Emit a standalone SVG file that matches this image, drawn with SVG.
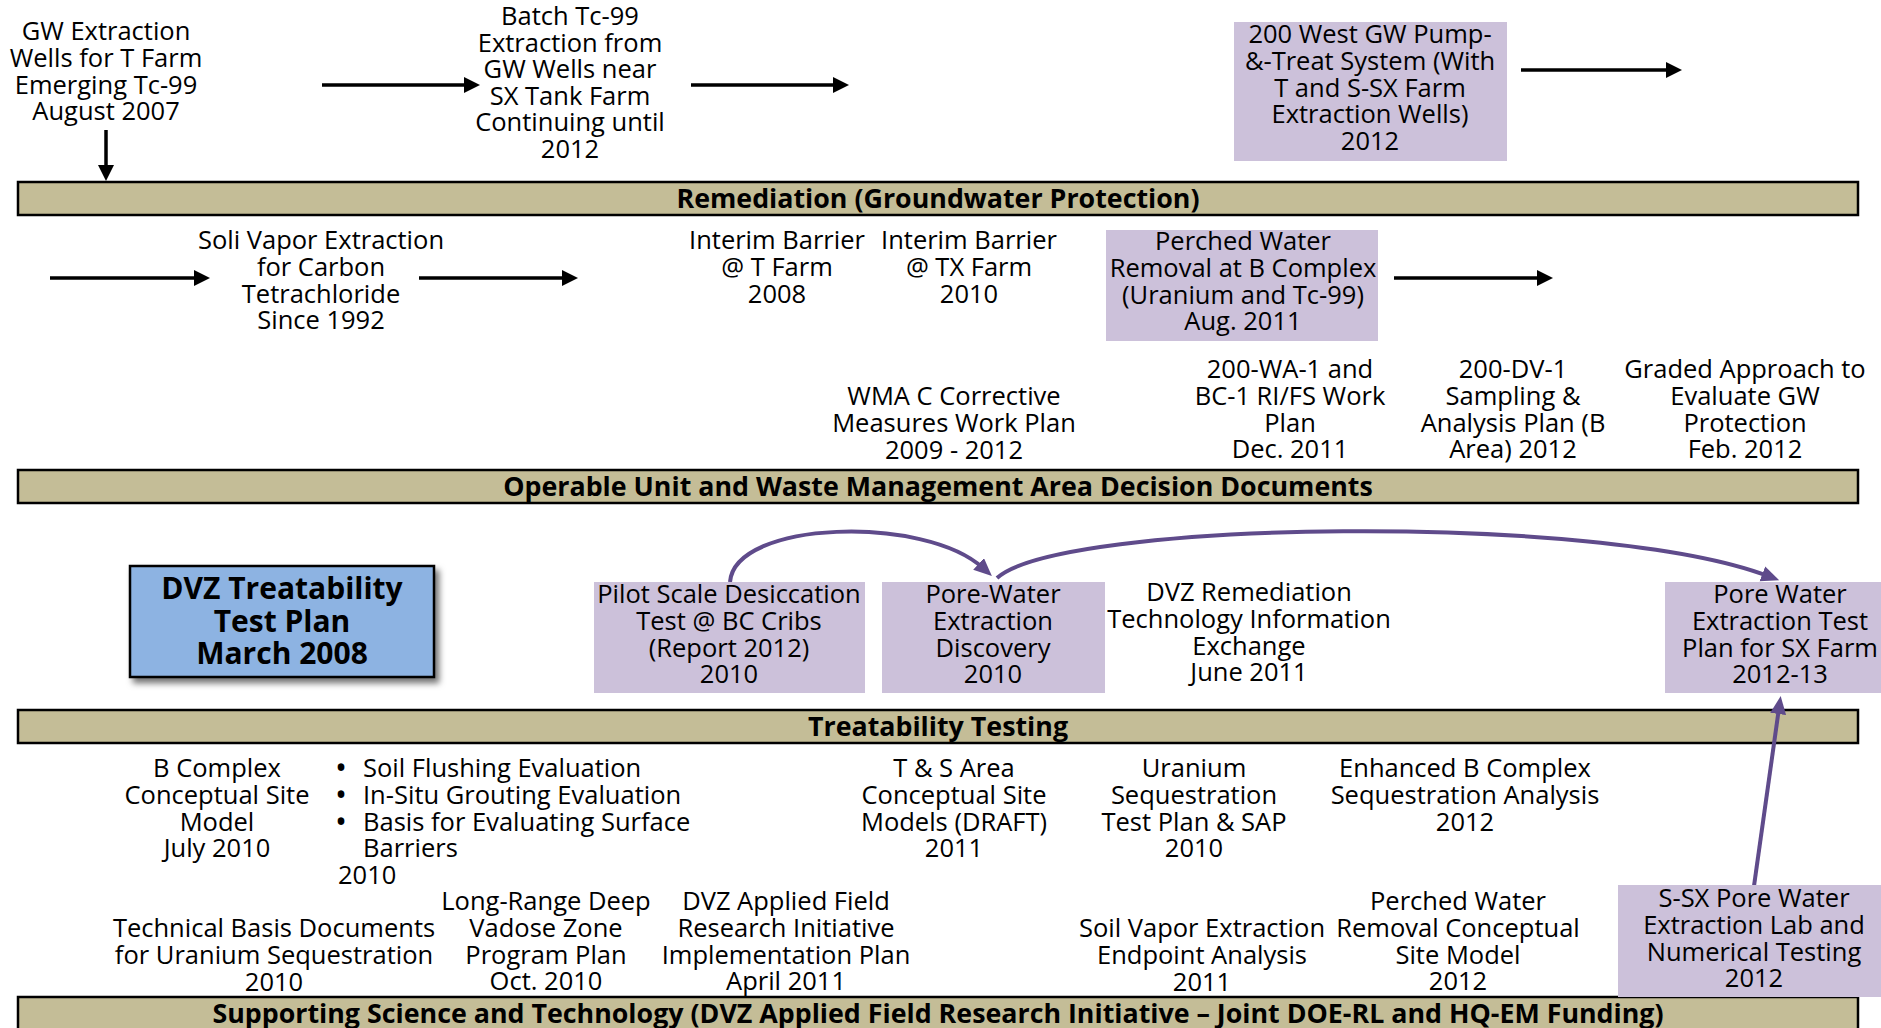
<svg xmlns="http://www.w3.org/2000/svg" width="1881" height="1028" viewBox="0 0 1881 1028">
<style>
.t{font-family:"Open Sans","Liberation Sans",sans-serif;font-size:25.5px;fill:#000;text-anchor:middle}
.l{text-anchor:start}
.band{fill:#C4BD97;stroke:#000;stroke-width:2.5}
.bt{font-family:"Open Sans","Liberation Sans",sans-serif;font-size:26.8px;font-weight:bold;fill:#000;text-anchor:middle}
.pbox{fill:#CCC1DA}
.arr{stroke:#000;stroke-width:3.5;fill:none;marker-end:url(#ah)}
.pc{stroke:#5F4B8B;stroke-width:4;fill:none;marker-end:url(#ph)}
</style>
<defs>
<marker id="ah" markerUnits="userSpaceOnUse" markerWidth="18" markerHeight="18" refX="4" refY="8" orient="auto"><path d="M0,0 L16,8 L0,16 z" fill="#000"/></marker>
<marker id="ph" markerUnits="userSpaceOnUse" markerWidth="20" markerHeight="18" refX="6" refY="8" orient="auto"><path d="M0,0 L18,8 L0,16 z" fill="#5F4B8B"/></marker>
<filter id="sh" x="-10%" y="-10%" width="130%" height="140%"><feDropShadow dx="4" dy="5" stdDeviation="3" flood-color="#000" flood-opacity="0.55"/></filter>
</defs>

<g id="bands">
<g id="band-remediation"><rect class="band" x="18" y="182" width="1840" height="33"/><text class="bt" x="938" y="208">Remediation (Groundwater Protection)</text></g>
<g id="band-operable"><rect class="band" x="18" y="470" width="1840" height="33"/><text class="bt" x="938" y="496">Operable Unit and Waste Management Area Decision Documents</text></g>
<g id="band-treatability"><rect class="band" x="18" y="710" width="1840" height="33"/><text class="bt" x="938" y="736">Treatability Testing</text></g>
<g id="band-supporting"><rect class="band" x="18" y="997" width="1840" height="45"/><text class="bt" x="938" y="1023">Supporting Science and Technology (DVZ Applied Field Research Initiative – Joint DOE-RL and HQ-EM Funding)</text></g>
</g>

<g id="connectors">
<line class="arr" x1="106" y1="130" x2="106" y2="169"/>
<line class="arr" x1="322" y1="85" x2="468" y2="85"/>
<line class="arr" x1="691" y1="85" x2="837" y2="85"/>
<line class="arr" x1="1521" y1="70" x2="1670" y2="70"/>
<line class="arr" x1="50" y1="278" x2="198" y2="278"/>
<line class="arr" x1="419" y1="278" x2="566" y2="278"/>
<line class="arr" x1="1394" y1="278" x2="1541" y2="278"/>
<path class="pc" d="M730,582 C735,520 925,515 983,568"/>
<path class="pc" d="M997,578 C1060,520 1600,512 1768,576"/>
<path class="pc" d="M1754,886 L1779,708"/>
</g>

<g id="n-gw-wells"><text class="t"><tspan x="106" y="40">GW Extraction</tspan><tspan x="106" y="66.8">Wells for T Farm</tspan><tspan x="106" y="93.6">Emerging Tc-99</tspan><tspan x="106" y="120.4">August 2007</tspan></text></g>

<g id="n-batch"><text class="t"><tspan x="570" y="25">Batch Tc-99</tspan><tspan x="570" y="51.6">Extraction from</tspan><tspan x="570" y="78.2">GW Wells near</tspan><tspan x="570" y="104.8">SX Tank Farm</tspan><tspan x="570" y="131.4">Continuing until</tspan><tspan x="570" y="158">2012</tspan></text></g>

<g id="n-200west"><rect class="pbox" x="1234" y="22" width="273" height="139"/><text class="t"><tspan x="1370" y="43">200 West GW Pump-</tspan><tspan x="1370" y="69.8">&amp;-Treat System (With</tspan><tspan x="1370" y="96.6">T and S-SX Farm</tspan><tspan x="1370" y="123.4">Extraction Wells)</tspan><tspan x="1370" y="150.2">2012</tspan></text></g>

<g id="n-sve"><text class="t"><tspan x="321" y="249">Soli Vapor Extraction</tspan><tspan x="321" y="275.8">for Carbon</tspan><tspan x="321" y="302.6">Tetrachloride</tspan><tspan x="321" y="329.4">Since 1992</tspan></text></g>

<g id="n-barrier-t"><text class="t"><tspan x="777" y="249">Interim Barrier</tspan><tspan x="777" y="275.8">@ T Farm</tspan><tspan x="777" y="302.6">2008</tspan></text></g>

<g id="n-barrier-tx"><text class="t"><tspan x="969" y="249">Interim Barrier</tspan><tspan x="969" y="275.8">@ TX Farm</tspan><tspan x="969" y="302.6">2010</tspan></text></g>

<g id="n-perched"><rect class="pbox" x="1106" y="230" width="272" height="111"/><text class="t"><tspan x="1243" y="250">Perched Water</tspan><tspan x="1243" y="276.8">Removal at B Complex</tspan><tspan x="1243" y="303.6">(Uranium and Tc-99)</tspan><tspan x="1243" y="330.4">Aug. 2011</tspan></text></g>

<g id="n-wmac"><text class="t"><tspan x="954" y="405">WMA C Corrective</tspan><tspan x="954" y="431.8">Measures Work Plan</tspan><tspan x="954" y="458.6">2009 - 2012</tspan></text></g>

<g id="n-200wa1"><text class="t"><tspan x="1290" y="378">200-WA-1 and</tspan><tspan x="1290" y="404.8">BC-1 RI/FS Work</tspan><tspan x="1290" y="431.6">Plan</tspan><tspan x="1290" y="458.4">Dec. 2011</tspan></text></g>

<g id="n-200dv1"><text class="t"><tspan x="1513" y="378">200-DV-1</tspan><tspan x="1513" y="404.8">Sampling &amp;</tspan><tspan x="1513" y="431.6">Analysis Plan (B</tspan><tspan x="1513" y="458.4">Area) 2012</tspan></text></g>

<g id="n-graded"><text class="t"><tspan x="1745" y="378">Graded Approach to</tspan><tspan x="1745" y="404.8">Evaluate GW</tspan><tspan x="1745" y="431.6">Protection</tspan><tspan x="1745" y="458.4">Feb. 2012</tspan></text></g>

<g id="n-dvz-plan"><rect x="130" y="566" width="304" height="111" fill="#8DB3E2" stroke="#000" stroke-width="2.5" filter="url(#sh)"/><text class="t" style="font-weight:bold;font-size:30px"><tspan x="282" y="599">DVZ Treatability</tspan><tspan x="282" y="631.5">Test Plan</tspan><tspan x="282" y="664">March 2008</tspan></text></g>

<g id="n-pilot"><rect class="pbox" x="594" y="582" width="271" height="111"/><text class="t"><tspan x="729" y="603">Pilot Scale Desiccation</tspan><tspan x="729" y="629.8">Test @ BC Cribs</tspan><tspan x="729" y="656.6">(Report 2012)</tspan><tspan x="729" y="683.4">2010</tspan></text></g>

<g id="n-porewater-disc"><rect class="pbox" x="882" y="582" width="223" height="111"/><text class="t"><tspan x="993" y="603">Pore-Water</tspan><tspan x="993" y="629.8">Extraction</tspan><tspan x="993" y="656.6">Discovery</tspan><tspan x="993" y="683.4">2010</tspan></text></g>

<g id="n-dvz-rem"><text class="t"><tspan x="1249" y="601">DVZ Remediation</tspan><tspan x="1249" y="627.8">Technology Information</tspan><tspan x="1249" y="654.6">Exchange</tspan><tspan x="1249" y="681.4">June 2011</tspan></text></g>

<g id="n-pw-testplan"><rect class="pbox" x="1665" y="582" width="220" height="111"/><text class="t"><tspan x="1780" y="603">Pore Water</tspan><tspan x="1780" y="629.8">Extraction Test</tspan><tspan x="1780" y="656.6">Plan for SX Farm</tspan><tspan x="1780" y="683.4">2012-13</tspan></text></g>

<g id="n-bcomplex-csm"><text class="t"><tspan x="217" y="777">B Complex</tspan><tspan x="217" y="803.8">Conceptual Site</tspan><tspan x="217" y="830.6">Model</tspan><tspan x="217" y="857.4">July 2010</tspan></text></g>

<g id="n-bullets"><text class="t l" style="font-size:32px"><tspan x="335" y="779">•</tspan><tspan x="335" y="805.8">•</tspan><tspan x="335" y="832.6">•</tspan></text><text class="t l"><tspan x="363" y="777">Soil Flushing Evaluation</tspan><tspan x="363" y="803.8">In-Situ Grouting Evaluation</tspan><tspan x="363" y="830.6">Basis for Evaluating Surface</tspan><tspan x="363" y="857.4">Barriers</tspan><tspan x="338" y="884.2">2010</tspan></text></g>

<g id="n-ts-csm"><text class="t"><tspan x="954" y="777">T &amp; S Area</tspan><tspan x="954" y="803.8">Conceptual Site</tspan><tspan x="954" y="830.6">Models (DRAFT)</tspan><tspan x="954" y="857.4">2011</tspan></text></g>

<g id="n-uranium-seq"><text class="t"><tspan x="1194" y="777">Uranium</tspan><tspan x="1194" y="803.8">Sequestration</tspan><tspan x="1194" y="830.6">Test Plan &amp; SAP</tspan><tspan x="1194" y="857.4">2010</tspan></text></g>

<g id="n-enhanced"><text class="t"><tspan x="1465" y="777">Enhanced B Complex</tspan><tspan x="1465" y="803.8">Sequestration Analysis</tspan><tspan x="1465" y="830.6">2012</tspan></text></g>

<g id="n-tech-basis"><text class="t"><tspan x="274" y="937">Technical Basis Documents</tspan><tspan x="274" y="963.8">for Uranium Sequestration</tspan><tspan x="274" y="990.6">2010</tspan></text></g>

<g id="n-longrange"><text class="t"><tspan x="546" y="910">Long-Range Deep</tspan><tspan x="546" y="936.8">Vadose Zone</tspan><tspan x="546" y="963.6">Program Plan</tspan><tspan x="546" y="990.4">Oct. 2010</tspan></text></g>

<g id="n-afri"><text class="t"><tspan x="786" y="910">DVZ Applied Field</tspan><tspan x="786" y="936.8">Research Initiative</tspan><tspan x="786" y="963.6">Implementation Plan</tspan><tspan x="786" y="990.4">April 2011</tspan></text></g>

<g id="n-sve-endpoint"><text class="t"><tspan x="1202" y="937">Soil Vapor Extraction</tspan><tspan x="1202" y="963.8">Endpoint Analysis</tspan><tspan x="1202" y="990.6">2011</tspan></text></g>

<g id="n-perched-csm"><text class="t"><tspan x="1458" y="910">Perched Water</tspan><tspan x="1458" y="936.8">Removal Conceptual</tspan><tspan x="1458" y="963.6">Site Model</tspan><tspan x="1458" y="990.4">2012</tspan></text></g>

<g id="n-ssx"><rect class="pbox" x="1618" y="885" width="267" height="112"/><text class="t"><tspan x="1754" y="907">S-SX Pore Water</tspan><tspan x="1754" y="933.8">Extraction Lab and</tspan><tspan x="1754" y="960.6">Numerical Testing</tspan><tspan x="1754" y="987.4">2012</tspan></text></g>
</svg>
